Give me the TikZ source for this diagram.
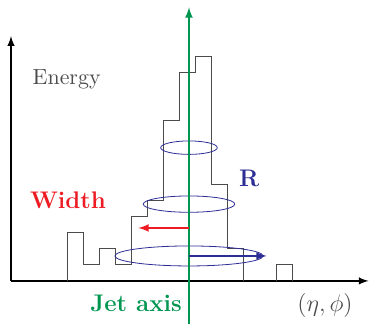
\documentclass[tikz,border=0pt,11pt]{standalone}
\usepackage{tikz}

\definecolor{jetgreen}{RGB}{0,150,80}
\definecolor{conoblue}{RGB}{45,45,150}
\definecolor{anchored}{RGB}{237,28,36}
\definecolor{histgray}{RGB}{75,75,75}

\begin{document}
\begin{tikzpicture}[x=8pt, y=8pt,
        hist/.style={histgray, line width=0.5pt},
        ring/.style={conoblue, line width=0.4pt},
        lbl/.style={inner sep=0pt, anchor=base}]
    \useasboundingbox (-0.6875,-2.69) rectangle (22.44,17.56);

    % Ejes
    \coordinate (O) at (0,0);
    \coordinate (ytop) at (0,15.3);
    \coordinate (xend) at (22.35,0);
    \draw[-latex, line width=0.7pt] (O) -- (ytop);
    \draw[-latex, line width=0.7pt] (O) -- (xend);

    % Histograma
    \draw[hist] (3.55,0) -- (3.55,3) -- (4.55,3) -- (4.55,1) -- (5.55,1)
        -- (5.55,2) -- (6.55,2) -- (6.55,1) -- (7.55,1) -- (7.55,4)
        -- (8.55,4) -- (8.55,5) -- (9.55,5) -- (9.55,10) -- (10.55,10)
        -- (10.55,13) -- (11.55,13) -- (11.55,14) -- (12.55,14) -- (12.55,6)
        -- (13.55,6) -- (13.55,2) -- (14.55,2) -- (14.55,0);
    \draw[hist] (16.6,0) -- (16.6,1) -- (17.6,1) -- (17.6,0);

    % Conos
    \coordinate (c1) at (11.125,8.33);
    \coordinate (c2) at (11.125,4.8);
    \coordinate (c3) at (11.125,1.56);
    \draw[ring] (c1) ellipse (1.77 and 0.42);
    \draw[ring] (c2) ellipse (2.86 and 0.51);
    \draw[ring] (c3) ellipse (4.63 and 0.625);

    % Eje del jet
    \coordinate (jbot) at (11.125,-2.69);
    \coordinate (jtop) at (11.125,17.1);
    \draw[-latex, jetgreen, line width=0.8pt] (jbot) -- (jtop);

    % Flechas
    \coordinate (w0) at (11.125,3.31);
    \coordinate (w1) at (7.96,3.31);
    \draw[-latex, anchored, line width=0.8pt] (w0) -- (w1);
    \coordinate (r1) at (15.98,1.56);
    \draw[-latex, conoblue, line width=0.8pt] (c3) -- (r1);

    % Etiquetas
    \node[lbl, anchor=base west, histgray] (energy) at (1.33,12.29) {Energy};
    \node[lbl, anchored] (width) at (3.56,4.54) {\large\bfseries Width};
    \node[lbl, conoblue] (rlabel) at (14.89,5.89) {\large\bfseries R};
    \node[lbl, anchor=base west, jetgreen] (jet) at (4.94,-1.92) {\large\bfseries Jet axis};
    \node[lbl, histgray] (coords) at (19.63,-1.92) {\large $(\eta,\phi)$};
\end{tikzpicture}
\end{document}
